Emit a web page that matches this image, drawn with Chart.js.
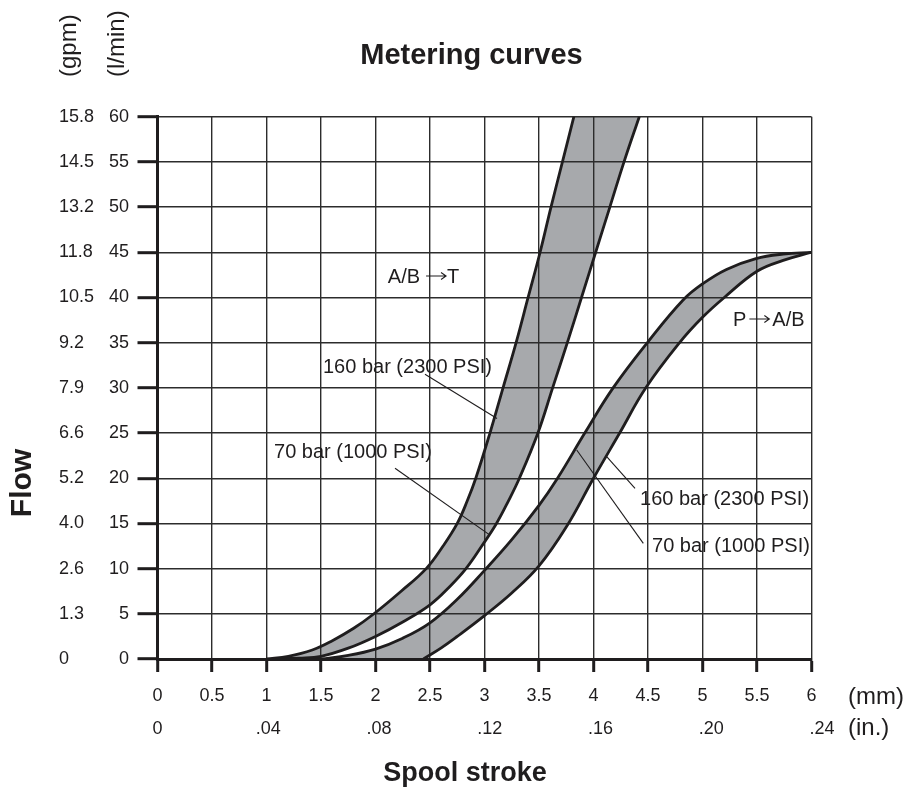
<!DOCTYPE html>
<html>
<head>
<meta charset="utf-8">
<script src="https://cdn.jsdelivr.net/npm/chart.js@4.4.1/dist/chart.umd.min.js"></script>
<style>
  html, body { margin: 0; padding: 0; background: #ffffff; }
  #wrap { position: relative; width: 910px; height: 790px; }
</style>
</head>
<body>
<div id="wrap"><canvas id="c"></canvas></div>
<script>
// ---------------- data ----------------
const strokeTicksMm = [0, 0.5, 1, 1.5, 2, 2.5, 3, 3.5, 4, 4.5, 5, 5.5, 6];
const strokeTickLabelsMm = ['0', '0.5', '1', '1.5', '2', '2.5', '3', '3.5', '4', '4.5', '5', '5.5', '6'];
const strokeTicksIn = [0, 0.04, 0.08, 0.12, 0.16, 0.20, 0.24];
const strokeTickLabelsIn = ['0', '.04', '.08', '.12', '.16', '.20', '.24'];
const flowTicksLpm = [0, 5, 10, 15, 20, 25, 30, 35, 40, 45, 50, 55, 60];
const flowTickLabelsLpm = ['0', '5', '10', '15', '20', '25', '30', '35', '40', '45', '50', '55', '60'];
const flowTickLabelsGpm = ['0', '1.3', '2.6', '4.0', '5.2', '6.6', '7.9', '9.2', '10.5', '11.8', '13.2', '14.5', '15.8'];
const MM_PER_INCH = 25.4;

// A/B -> T, 160 bar (2300 PSI) edge  (stroke mm, flow l/min)
const abt160Stroke = [1.0, 1.2, 1.42, 1.6, 1.8, 1.98, 2.235, 2.465, 2.62, 2.75, 2.842, 2.92, 3.05, 3.17, 3.29, 3.40, 3.51, 3.61, 3.715, 3.82];
const abt160Flow   = [0,   0.3, 1.0,  2.0, 3.4, 4.95, 7.5,   10,    12.5, 15,   17.5,  20,   25,   30,   35,   40,   45,   50,   55,    60];
// A/B -> T, 70 bar (1000 PSI) edge
const abt70Stroke = [1.05, 1.3, 1.5, 1.75, 2.0, 2.25, 2.5, 2.68, 2.83, 2.975, 3.11, 3.22, 3.32, 3.49, 3.625, 3.76, 3.89, 4.02, 4.15, 4.28, 4.42];
const abt70Flow   = [0,    0.1, 0.3, 1.2,  2.5, 4.1,  6.0, 8.0,  10,   12.5,  15,   17.5, 20,   25,   30,    35,   40,   45,   50,   55,   60];
// P -> A/B, 160 bar (2300 PSI) edge
const pab160Stroke = [1.5, 1.75, 2.0, 2.25, 2.5, 2.75, 3.0, 3.25, 3.5, 3.67, 3.92, 4.18, 4.5,  4.82, 5.0,  5.22, 5.49, 5.74, 6.0];
const pab160Flow   = [0,   0.4,  1.1, 2.3,  4.0, 6.6,  9.8, 13.2, 17.0, 20,  25,   30,   35.1, 39.7, 41.5, 43.1, 44.3, 44.8, 45];
// P -> A/B, 70 bar (1000 PSI) edge
const pab70Stroke = [2.44, 2.6, 2.75, 3.0, 3.25, 3.5,  3.75, 4.0, 4.24, 4.48, 4.79, 5.0,  5.2, 5.5,  5.74, 6.0];
const pab70Flow   = [0,    1.2, 2.5,  4.8, 7.3,  10.3, 14.6, 20,  25,   30,   35,   37.8, 40,  42.9, 44.1, 45];

// ---------------- styles / annotations ----------------
const INK = '#1f1d1e';
const GRID = '#2c2c2c';
const BAND_FILL = '#a7a9ac';
const FONT = "'Liberation Sans', Arial, Helvetica, sans-serif";

// label: text before arrow, text after arrow (arrow optional), anchored at left/middle in data units
const bandLabels = [
  { pre: 'A/B', post: 'T', arrow: true, gapL: 6, gapR: 1, at: [2.113, 42.26] },
  { pre: 'P', post: 'A/B', arrow: true, gapL: 3, gapR: 3, at: [5.28, 37.5] },
  { pre: '160 bar (2300 PSI)', at: [1.518, 32.2] },
  { pre: '70 bar (1000 PSI)', at: [1.069, 22.8] },
  { pre: '160 bar (2300 PSI)', at: [4.427, 17.6] },
  { pre: '70 bar (1000 PSI)', at: [4.537, 12.5] }
];
const leaders = [
  { from: [2.454, 31.5], to: [3.115, 26.6] },
  { from: [2.179, 21.1], to: [3.05, 13.7] },
  { from: [4.381, 18.88], to: [4.121, 22.38] },
  { from: [4.457, 12.8], to: [3.846, 23.12] }
];

// ---------------- build ----------------
const pts = (xs, ys) => xs.map((x, i) => ({ x: x, y: ys[i] }));
const edgeDs = (label, data, fillTarget) => ({
  label, data,
  indexAxis: 'y',
  fill: fillTarget === undefined ? false : fillTarget,
  backgroundColor: BAND_FILL,
  borderColor: INK, borderWidth: 2.8, pointRadius: 0,
  borderJoinStyle: 'round',
  tension: 0.4, xAxisID: 'x', yAxisID: 'y'
});

const datasets = [
  edgeDs('A/B→T 160 bar', pts(abt160Stroke, abt160Flow), '+1'),
  edgeDs('A/B→T 70 bar', pts(abt70Stroke, abt70Flow)),
  edgeDs('P→A/B 160 bar', pts(pab160Stroke, pab160Flow), '+1'),
  edgeDs('P→A/B 70 bar', pts(pab70Stroke, pab70Flow))
];

const annotPlugin = {
  id: 'annot',
  afterDraw(chart) {
    const { ctx, scales } = chart;
    const px = v => scales.x.getPixelForValue(v);
    const py = v => scales.y.getPixelForValue(v);
    ctx.save();
    // leader lines
    ctx.strokeStyle = INK;
    ctx.lineWidth = 1.1;
    leaders.forEach(l => {
      ctx.beginPath();
      ctx.moveTo(px(l.from[0]), py(l.from[1]));
      ctx.lineTo(px(l.to[0]), py(l.to[1]));
      ctx.stroke();
    });
    // band labels
    ctx.fillStyle = INK;
    ctx.font = '20px ' + FONT;
    ctx.textAlign = 'left';
    ctx.textBaseline = 'middle';
    bandLabels.forEach(l => {
      let x = px(l.at[0]);
      const y = py(l.at[1]);
      ctx.fillText(l.pre, x, y);
      if (l.arrow) {
        x += ctx.measureText(l.pre).width + l.gapL;
        const len = 20;
        const ay = y - 1;
        ctx.lineWidth = 1.1;
        ctx.beginPath();
        ctx.moveTo(x, ay);
        ctx.lineTo(x + len, ay);
        ctx.moveTo(x + len - 5, ay - 3.5);
        ctx.lineTo(x + len, ay);
        ctx.lineTo(x + len - 5, ay + 3.5);
        ctx.stroke();
        ctx.fillText(l.post, x + len + l.gapR, y);
      }
    });

    const area = chart.chartArea;
    // chart title
    ctx.font = 'bold 29px ' + FONT;
    ctx.textAlign = 'center';
    ctx.textBaseline = 'alphabetic';
    ctx.fillText('Metering curves', area.left + 314, area.top - 53.2);
    // x axis title
    ctx.font = 'bold 27px ' + FONT;
    ctx.fillText('Spool stroke', area.left + 307.5, area.bottom + 122);
    // units on x axis
    ctx.font = '24px ' + FONT;
    ctx.textAlign = 'left';
    ctx.textBaseline = 'middle';
    ctx.fillText('(mm)', area.right + 36.5, area.bottom + 38.5);
    ctx.fillText('(in.)', area.right + 36.5, area.bottom + 69.5);
    // rotated texts
    const rot = (text, x, y, font, align) => {
      ctx.save();
      ctx.translate(x, y);
      ctx.rotate(-Math.PI / 2);
      ctx.font = font;
      ctx.textAlign = align;
      ctx.textBaseline = 'middle';
      ctx.fillText(text, 0, 0);
      ctx.restore();
    };
    rot('(gpm)', 69, area.top - 39.7, '24px ' + FONT, 'left');
    rot('(l/min)', 117, area.top - 39.7, '24px ' + FONT, 'left');
    rot('Flow', 22.5, 483, 'bold 30px ' + FONT, 'center');
    ctx.restore();
  }
};

Chart.defaults.font.family = FONT;
Chart.defaults.color = INK;

new Chart(document.getElementById('c'), {
  type: 'line',
  data: { datasets },
  options: {
    indexAxis: 'y',
    responsive: true,
    maintainAspectRatio: false,
    animation: false,
    events: [],
    layout: { padding: { top: 116.7, left: 59, right: 98.5, bottom: 0 } },
    plugins: {
      legend: { display: false },
      tooltip: { enabled: false },
      title: { display: false },
      filler: { drawTime: 'beforeDraw' }
    },
    scales: {
      x: {
        type: 'linear', position: 'bottom', weight: 0,
        min: strokeTicksMm[0], max: strokeTicksMm[strokeTicksMm.length - 1],
        afterBuildTicks: s => { s.ticks = strokeTicksMm.map(v => ({ value: v })); },
        afterFit: s => { s.height = 48; },
        grid: { color: GRID, lineWidth: 1.4, drawTicks: true, tickLength: 13, tickWidth: 3, tickColor: INK },
        border: { display: true, color: INK, width: 3 },
        ticks: { autoSkip: false, maxRotation: 0, minRotation: 0, padding: 13.7, font: { size: 18 }, color: INK,
                 callback: (v, i) => strokeTickLabelsMm[i] }
      },
      xIn: {
        type: 'linear', position: 'bottom', weight: 1,
        min: strokeTicksMm[0] / MM_PER_INCH, max: strokeTicksMm[strokeTicksMm.length - 1] / MM_PER_INCH,
        afterBuildTicks: s => { s.ticks = strokeTicksIn.map(v => ({ value: v })); },
        afterFit: s => { s.height = 83; },
        grid: { display: false, drawTicks: false, drawOnChartArea: false },
        border: { display: false },
        ticks: { autoSkip: false, maxRotation: 0, minRotation: 0, padding: 11.7, font: { size: 18 }, color: INK,
                 callback: (v, i) => strokeTickLabelsIn[i] }
      },
      y: {
        type: 'linear', position: 'left', weight: 0,
        min: flowTicksLpm[0], max: flowTicksLpm[flowTicksLpm.length - 1],
        afterBuildTicks: s => { s.ticks = flowTicksLpm.map(v => ({ value: v })); },
        afterFit: s => { s.width = 50; },
        grid: { color: GRID, lineWidth: 1.4, drawTicks: true, tickLength: 20, tickWidth: 3, tickColor: INK },
        border: { display: true, color: INK, width: 3 },
        ticks: { autoSkip: false, padding: 8.5, font: { size: 18 }, color: INK,
                 callback: (v, i) => flowTickLabelsLpm[i] }
      },
      yGpm: {
        type: 'linear', position: 'left', weight: 1,
        min: flowTicksLpm[0], max: flowTicksLpm[flowTicksLpm.length - 1],
        afterBuildTicks: s => { s.ticks = flowTicksLpm.map(v => ({ value: v })); },
        afterFit: s => { s.width = 48.5; },
        grid: { display: false, drawTicks: false, drawOnChartArea: false },
        border: { display: false },
        ticks: { autoSkip: false, crossAlign: 'far', padding: 0, font: { size: 18 }, color: INK,
                 callback: (v, i) => flowTickLabelsGpm[i] }
      }
    }
  },
  plugins: [annotPlugin]
});
</script>
</body>
</html>
